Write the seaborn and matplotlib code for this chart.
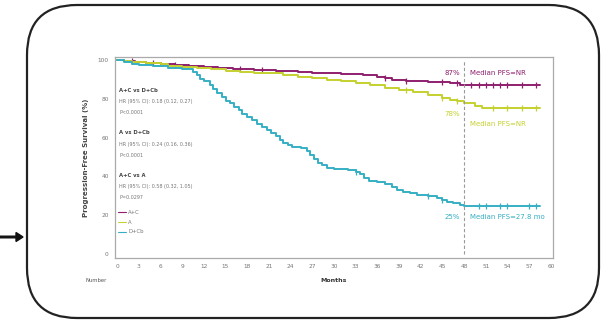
import numpy as np
import pandas as pd
import matplotlib
matplotlib.use("Agg")
import matplotlib.pyplot as plt
import matplotlib.patches as mpatches
from matplotlib.transforms import IdentityTransform
import seaborn as sns

# ---------------- data ----------------
groups = ["A+C", "A", "D+Cb"]
colors = ["#8E1F6E", "#C5D12E", "#36AFC4"]

ac_t = [0, 1, 2.5, 4, 6, 8, 10, 12, 14, 16, 19, 22, 25, 27, 29, 31, 34, 36, 37, 38,
        40, 43, 46, 47.5, 58.5]
ac_s = [100, 99.5, 99, 98.5, 98, 97.5, 97, 96.5, 96, 95.5, 95, 94.5, 94, 93.5, 93,
        92.5, 92, 91, 90.5, 89.5, 89, 88.5, 88, 87, 87]
ac_cens = [2, 5, 8, 17, 20, 37, 40, 45, 47, 49, 50, 51, 52, 53, 54, 56, 58]

a_t = [0, 1, 2, 4, 6, 7, 9, 11, 13, 15, 17, 19, 21, 23, 25, 27, 29, 31, 33, 35, 37,
       39, 41, 43, 45, 46, 47, 48, 49.5, 50.5, 58.5]
a_s = [100, 99.5, 99, 98.5, 98, 97, 96.5, 96, 95.5, 94.5, 94, 93.5, 93, 92, 91, 90.5,
       89.5, 89, 88, 87, 85.5, 84.5, 83.5, 82, 80.5, 79.5, 79, 78, 76.5, 75, 75]
a_cens = [40, 45, 47, 52, 54, 56, 58]

dcb_t = [0, 1, 2, 3, 5, 7, 9, 10.5, 11, 11.5, 12, 12.8, 13.3, 13.8, 14.5, 15, 15.6,
         16.2, 16.8, 17.3, 18, 18.6, 19.3, 20, 20.7, 21.3, 22, 22.5, 23, 23.6, 24.2,
         25.5, 26.2, 26.7, 27.2, 27.8, 28.3, 29, 30, 32, 33, 33.6, 34.2, 34.8, 36, 37,
         38, 38.7, 39.5, 40.5, 41.5, 43, 44.3, 45, 45.7, 46.5, 47.5, 48, 58.5]
dcb_s = [100, 99, 98, 97.5, 97, 96, 95.5, 94, 92, 90, 89, 87, 85, 83, 81, 79, 78, 76,
         74, 72, 70.5, 69, 67, 65.5, 64, 62.5, 61, 59, 57, 56, 55, 54.5, 53, 51, 49, 47,
         46, 44.5, 44, 43.5, 42.5, 41, 39, 37.5, 37, 36, 34.5, 33, 32, 31.5, 30.5, 30,
         29, 28, 27, 26.5, 25.5, 25, 25]
dcb_cens = [33, 43, 45, 50, 51, 53, 54, 57, 58]

x_ticks = list(range(0, 61, 3))
y_ticks = [0, 20, 40, 60, 80, 100]

landmark = 48
landmark_labels = ["87%", "78%", "25%"]
median_labels = ["Median PFS=NR", "Median PFS=NR", "Median PFS=27.8 mo"]

stats_lines = [
    ("A+C vs D+Cb", "HR (95% CI): 0.18 (0.12, 0.27)", "P<0.0001"),
    ("A vs D+Cb", "HR (95% CI): 0.24 (0.16, 0.36)", "P<0.0001"),
    ("A+C vs A", "HR (95% CI): 0.58 (0.32, 1.05)", "P=0.0297"),
]

# ---------------- build frames ----------------
curves = pd.concat([
    pd.DataFrame({"Months": t, "PFS": s, "Group": g})
    for t, s, g in [(ac_t, ac_s, "A+C"), (a_t, a_s, "A"), (dcb_t, dcb_s, "D+Cb")]
], ignore_index=True)


def step_val(t, s, x):
    idx = np.searchsorted(np.array(t), x, side="right") - 1
    return np.array(s)[idx]


cens = pd.concat([
    pd.DataFrame({"Months": c, "PFS": step_val(t, s, np.array(c)), "Group": g})
    for t, s, c, g in [(ac_t, ac_s, ac_cens, "A+C"), (a_t, a_s, a_cens, "A"),
                       (dcb_t, dcb_s, dcb_cens, "D+Cb")]
], ignore_index=True)

palette = dict(zip(groups, colors))

# ---------------- figure ----------------
sns.set_style("white")
plt.rcParams["font.family"] = ["DejaVu Sans"]
fig = plt.figure(figsize=(6.16, 3.26), dpi=100)
ax = fig.add_axes([0.1867, 0.2086, 0.711, 0.6166])

for g in groups:
    sub = curves[curves.Group == g]
    sns.lineplot(data=sub, x="Months", y="PFS", drawstyle="steps-post",
                 color=palette[g], lw=1.4, ax=ax, label=g, estimator=None)
    cs = cens[cens.Group == g]
    sns.scatterplot(data=cs, x="Months", y="PFS", marker="|", s=18,
                    color=palette[g], linewidth=0.9, ax=ax, legend=False)

ax.axvline(landmark, ymin=0.02, ymax=0.985, color="#9a9a9a", lw=0.8, ls=(0, (3, 2)))

ax.set_xlim(-0.3, 60.3)
ax.set_ylim(-2, 101.5)
ax.set_xticks(x_ticks)
ax.set_yticks(y_ticks)
ax.tick_params(axis="both", labelsize=4.2, colors="#777777", length=2.5, width=0.6,
               direction="out", pad=2)
for sp in ax.spines.values():
    sp.set_color("#aaaaaa")
    sp.set_linewidth(0.9)
ax.set_xlabel("Months", fontsize=4.5, color="#333333", fontweight="bold", labelpad=6)
ax.set_ylabel("Progression-Free Survival (%)", fontsize=5, color="#444444",
              fontweight="bold", labelpad=6)

# landmark annotations
lab_y = [93, 72, 19]
med_y = [93, 67, 19]
for i, g in enumerate(groups):
    ax.text(landmark - 0.6, lab_y[i], landmark_labels[i], color=palette[g],
            fontsize=5, ha="right", va="center")
    ax.text(landmark + 0.8, med_y[i], median_labels[i], color=palette[g],
            fontsize=5, ha="left", va="center")

# stats text
stat_y = [(84.5, 78.4, 72.7), (62.4, 56.2, 51.0), (40.7, 35.0, 29.4)]
for (h, hr, p), ys in zip(stats_lines, stat_y):
    ax.text(0.3, ys[0], h, fontsize=3.8, color="#444444", fontweight="bold", va="center")
    ax.text(0.3, ys[1], hr, fontsize=3.5, color="#777777", va="center")
    ax.text(0.3, ys[2], p, fontsize=3.5, color="#777777", va="center")

leg = ax.legend(loc="upper left", bbox_to_anchor=(0.0, 0.255), frameon=False,
                fontsize=3.8, handlelength=1.4, handletextpad=0.5,
                labelspacing=0.9, borderaxespad=0.2)
for txt in leg.get_texts():
    txt.set_color("#777777")
for line in leg.get_lines():
    line.set_linewidth(0.8)

fig.text(85 / 616, 1 - 281 / 326, "Number", fontsize=3.8, color="#555555",
         ha="left", va="center")

# rounded frame + arrow (pixel coordinates)
box = mpatches.FancyBboxPatch((27, 8), 572, 313,
                              boxstyle="round,pad=0,rounding_size=50",
                              transform=IdentityTransform(), fill=False,
                              edgecolor="#222222", lw=1.6)
fig.add_artist(box)
arrow = mpatches.FancyArrow(0, 89, 16, 0, width=1.6, head_width=9, head_length=7,
                            length_includes_head=False, transform=IdentityTransform(),
                            color="#111111")
fig.add_artist(arrow)

fig.savefig("out.png", dpi=100, facecolor="white")
